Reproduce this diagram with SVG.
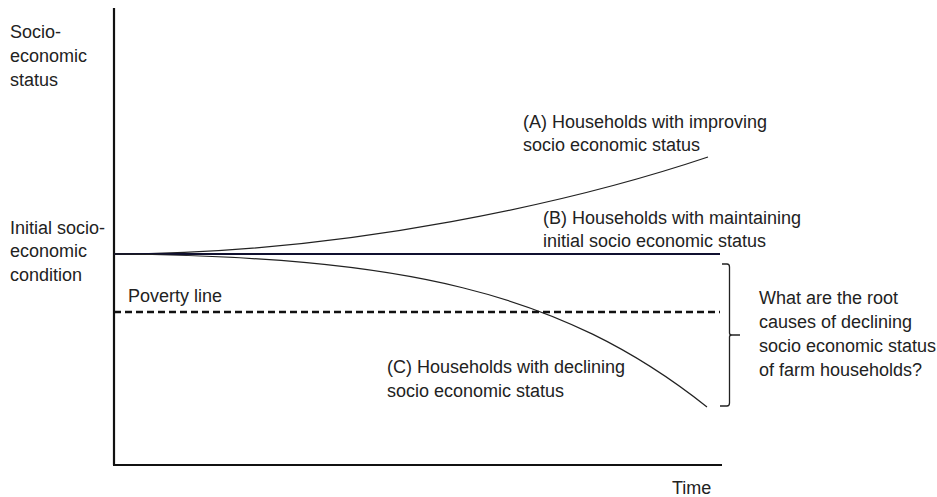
<svg xmlns="http://www.w3.org/2000/svg" width="937" height="497" viewBox="0 0 937 497">
<style>
text{font-family:"Liberation Sans",Arial,sans-serif;font-size:18px;fill:#222}
.axis{stroke:#111;stroke-width:2.2;fill:none}
.curve{stroke:#222;stroke-width:1.2;fill:none}
.base{stroke:#101030;stroke-width:1.8;fill:none}
.dash{stroke:#111;stroke-width:2.4;stroke-dasharray:7,4;fill:none}
.brace{stroke:#222;stroke-width:1.3;fill:none}
</style>
<rect width="937" height="497" fill="#fff"/>
<g id="axes">
<line class="axis" x1="114" y1="8" x2="114" y2="465"/>
<line class="axis" x1="113" y1="465" x2="722" y2="465"/>
</g>
<g id="y-label">
<text x="10" y="38">Socio-</text>
<text x="10" y="62">economic</text>
<text x="10" y="86">status</text>
</g>
<g id="initial-label">
<text x="10" y="234">Initial socio-</text>
<text x="10" y="257">economic</text>
<text x="10" y="281">condition</text>
</g>
<g id="x-label">
<text x="672" y="494">Time</text>
</g>
<g id="connectors">
<path id="line-A" class="curve" d="M114,254 C350,254 580,200 708,157"/>
<line id="line-B" class="base" x1="114" y1="254" x2="720" y2="254"/>
<path id="line-C" class="curve" d="M114,254 C400,257 560,290 707,407"/>
<line id="poverty-line" class="dash" x1="114" y1="312" x2="720" y2="312"/>
<path id="brace" class="brace" d="M722,264 L727,264 Q729.5,264 729.5,267 L729.5,333 Q729.5,335 732,335 L740,335 M732,335 Q729.5,335 729.5,337 L729.5,403 Q729.5,406 727,406 L720,406"/>
</g>
<g id="poverty-label">
<text x="128" y="302">Poverty line</text>
</g>
<g id="label-A">
<text x="523" y="128">(A) Households with improving</text>
<text x="523" y="151">socio economic status</text>
</g>
<g id="label-B">
<text x="543" y="224">(B) Households with maintaining</text>
<text x="543" y="247">initial socio economic status</text>
</g>
<g id="label-C">
<text x="387" y="373">(C) Households with declining</text>
<text x="387" y="397">socio economic status</text>
</g>
<g id="question">
<text x="759" y="304">What are the root</text>
<text x="759" y="328">causes of declining</text>
<text x="759" y="352">socio economic status</text>
<text x="759" y="376">of farm households?</text>
</g>
</svg>
